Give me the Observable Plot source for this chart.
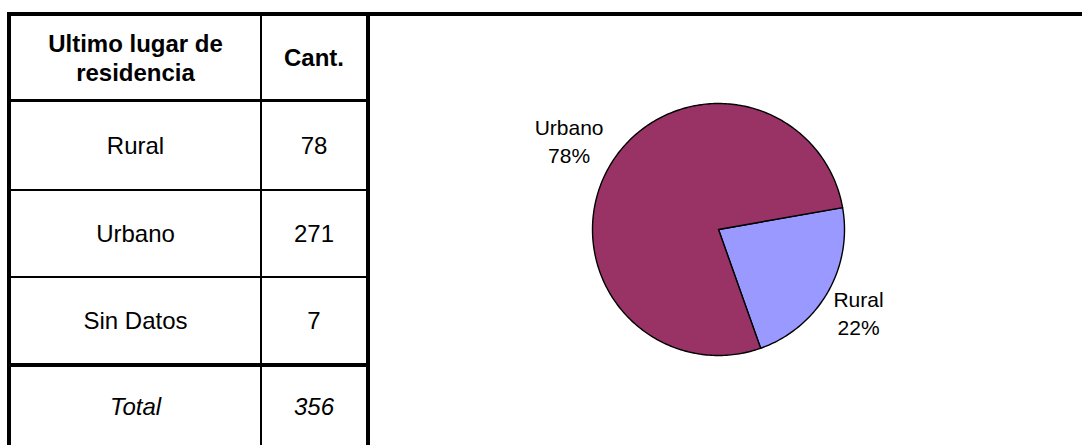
<!DOCTYPE html>
<html>
<head>
<meta charset="utf-8">
<script src="https://cdn.jsdelivr.net/npm/d3@7"></script>
<script src="https://cdn.jsdelivr.net/npm/@observablehq/plot@0.6"></script>
<style>
  html, body { margin: 0; padding: 0; background: #fff; }
  #wrap { position: relative; width: 1082px; height: 445px; overflow: hidden; font-family: "Liberation Sans", Arial, sans-serif; }
  .ln { position: absolute; background: #000; }
  .cell { position: absolute; display: flex; align-items: center; justify-content: center; text-align: center; color: #000; font-size: 24px; line-height: 29px; }
  .hd { font-weight: bold; }
  .it { font-style: italic; }
  #pie { position: absolute; left: 0; top: 0; }
</style>
</head>
<body>
<div id="wrap"></div>
<script>
// ---- data ----
const headerLabels = ["Ultimo lugar de\nresidencia", "Cant."];
const rowLabels = ["Rural", "Urbano", "Sin Datos"];
const rowCounts = [78, 271, 7];
const totalLabel = "Total";
const totalCount = 356;
const pieCategories = ["Rural", "Urbano"];
const pieValues = [78, 271];
const pieColors = ["#9999FF", "#993366"];

// ---- table layout ----
const wrap = document.getElementById("wrap");
function line(x, y, w, h) {
  const d = document.createElement("div");
  d.className = "ln";
  Object.assign(d.style, {left: x + "px", top: y + "px", width: w + "px", height: h + "px"});
  wrap.appendChild(d);
}
function cell(x0, x1, y0, y1, text, cls) {
  const d = document.createElement("div");
  d.className = "cell " + (cls || "");
  Object.assign(d.style, {left: x0 + "px", top: y0 + "px", width: (x1 - x0) + "px", height: (y1 - y0) + "px"});
  d.innerHTML = String(text).split("\n").join("<br>");
  wrap.appendChild(d);
}
const colX = [11, 260, 262, 366];
const rowY = [16, 99, 102, 189, 191, 276, 278, 363, 367, 445];

// lines
line(7, 12, 1075, 4);      // top
line(7, 12, 4, 433);       // left
line(260, 16, 2, 429);     // column divider
line(366, 12, 4, 433);     // right border of table
line(7, 99, 363, 3);       // header bottom
line(7, 189, 361, 2);
line(7, 276, 361, 2);
line(7, 363, 363, 4);

// cells
cell(colX[0], colX[1], rowY[0], rowY[1], headerLabels[0], "hd");
cell(colX[2], colX[3], rowY[0], rowY[1], headerLabels[1], "hd");
rowLabels.forEach((lab, i) => {
  const y0 = rowY[2 + 2 * i], y1 = rowY[3 + 2 * i];
  cell(colX[0], colX[1], y0, y1, lab);
  cell(colX[2], colX[3], y0, y1, rowCounts[i]);
});
cell(colX[0], colX[1], rowY[8], rowY[9], totalLabel, "it");
cell(colX[2], colX[3], rowY[8], rowY[9], totalCount, "it");

// ---- pie ----
const R = 126;              // pixel radius (matches x/y ranges below)
const labelFont = 21, labelLine = 28;
const startAngle = 80 * Math.PI / 180; // clockwise from 12 o'clock
const arcs = d3.pie().sort(null).startAngle(startAngle).endAngle(startAngle + 2 * Math.PI)(pieValues);
const sum = d3.sum(pieValues);
const ctx = document.createElement("canvas").getContext("2d");
ctx.font = labelFont + "px 'Liberation Sans'";
const polys = [];
const labels = [];
arcs.forEach((a, i) => {
  const name = pieCategories[i];
  polys.push({name, x: 0, y: 0});
  const n = Math.max(2, Math.ceil((a.endAngle - a.startAngle) / (Math.PI / 180)));
  for (let k = 0; k <= n; k++) {
    const t = a.startAngle + (a.endAngle - a.startAngle) * k / n;
    polys.push({name, x: Math.sin(t), y: Math.cos(t)});
  }
  polys.push({name, x: 0, y: 0});
  const text = name + "\n" + Math.round(100 * pieValues[i] / sum) + "%";
  const m = (a.startAngle + a.endAngle) / 2;
  const ax = 129 * Math.sin(m), ay = 129 * Math.cos(m);
  const hw = d3.max(text.split("\n"), s => ctx.measureText(s).width) / 2 + 3.5;
  const hh = 21.5;
  labels.push({name, text,
    x: (ax + Math.sign(ax) * hw) / R,
    y: (ay + Math.sign(ay) * hh) / R});
});

const chart = Plot.plot({
  width: 1082,
  height: 445,
  margin: 0,
  x: {domain: [-1, 1], range: [718 - R, 718 + R], axis: null},
  y: {domain: [-1, 1], range: [229 + R, 229 - R], axis: null},
  color: {domain: pieCategories, range: pieColors},
  style: {background: "transparent", fontFamily: "Liberation Sans, Arial, sans-serif"},
  marks: [
    Plot.line(polys, {x: "x", y: "y", z: "name", fill: "name", stroke: "#000", strokeWidth: 1.4, curve: "linear-closed"}),
    Plot.text(labels, {x: "x", y: "y", text: "text", fontSize: labelFont, fill: "#000", lineHeight: labelLine / labelFont, dy: -3.5})
  ]
});
chart.id = "pie";
wrap.appendChild(chart);
</script>
</body>
</html>
